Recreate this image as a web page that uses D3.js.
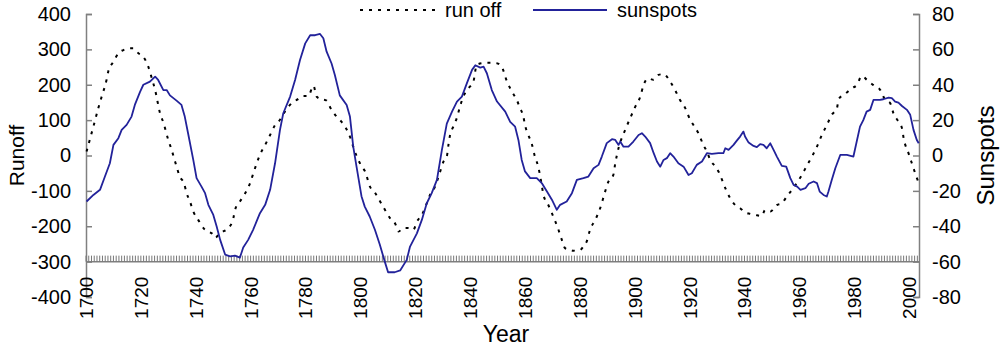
<!DOCTYPE html>
<html>
<head>
<meta charset="utf-8">
<script src="https://cdn.jsdelivr.net/npm/d3@7"></script>
<style>
    body { margin: 0; background: #fff; }
    text { font-family: "Liberation Sans", Arial, sans-serif; fill: #000; }
</style>
</head>
<body>
<script>
// run off (dotted)
const runoffYears = [1700.2, 1702.7, 1704.5, 1705.7, 1707.5, 1708.1, 1710, 1711.8, 1713.6, 1716, 1717.2, 1719.1,
    1720.9, 1722.7, 1724, 1725.2, 1727, 1728.3, 1729.8, 1731.2, 1733, 1734.2, 1735.7, 1736.7, 1737.9, 1739.1,
    1740.9, 1743.4, 1744.6, 1746.4, 1747, 1748.9, 1751.9, 1753.7, 1754.3, 1756.1, 1758, 1759.8, 1761, 1763.4,
    1765.3, 1767.1, 1768.9, 1770.7, 1772.5, 1775, 1776.8, 1779.2, 1781, 1782.9, 1784.1, 1785.9, 1787.7, 1789,
    1790.8, 1792.6, 1794.4, 1796.2, 1797.4, 1798.7, 1800.5, 1801.7, 1803.5, 1805.4, 1807.2, 1809, 1810.8, 1812.7,
    1813.9, 1815.7, 1817.5, 1819.3, 1820.6, 1822.4, 1824.2, 1825.4, 1827.2, 1829.1, 1830.3, 1831.5, 1832.1, 1832.7,
    1833.9, 1835.1, 1836.3, 1837.5, 1839.4, 1841.2, 1842.4, 1844.3, 1846.1, 1847.9, 1849.7, 1851.5, 1853.4, 1855.2,
    1857, 1858.2, 1859.4, 1860, 1861.2, 1862.4, 1863.6, 1864.8, 1866.1, 1866.7, 1868.5, 1869.8, 1872.2, 1873.4,
    1874.6, 1876.4, 1877.6, 1880.1, 1881.3, 1882.5, 1883.7, 1885.6, 1887.4, 1889.2, 1890.4, 1892.2, 1892.9, 1894.1,
    1896.5, 1898.3, 1900.2, 1902, 1903.2, 1905, 1906.8, 1908.6, 1910.5, 1912.9, 1914.7, 1916.5, 1918.4, 1920.2,
    1921.4, 1923.2, 1925, 1926.3, 1927.5, 1929.3, 1930.5, 1933, 1934.8, 1936.6, 1938.4, 1940.2, 1942.1, 1943.9,
    1946.3, 1947.5, 1949.4, 1951.8, 1953.6, 1955.4, 1957.3, 1959.1, 1960.9, 1962.7, 1964.6, 1966.4, 1968.2, 1970,
    1971.8, 1973.7, 1974.3, 1976.7, 1979.1, 1980.9, 1982.8, 1984.6, 1987, 1989.5, 1991.3, 1993.1, 1994.3, 1996.1,
    1997.4, 1998, 1999.8, 2001, 2002.2, 2003.5];
const runoffValues = [11, 82, 134, 166, 214, 237, 265, 289, 298, 303, 303, 289,
    279, 251, 218, 185, 119, 91, 49, 16, -31, -60, -78, -107, -130, -158,
    -182, -210, -215, -224, -233, -219, -205, -177, -154, -130, -107, -78, -50, 2,
    30, 58, 86, 101, 124, 148, 157, 168, 168, 197, 166, 159, 155, 136,
    115, 100, 82, 53, 25, -3, -31, -45, -88, -106, -130, -154, -177, -193,
    -215, -205, -205, -210, -187, -168, -135, -111, -88, -45, -17, -3, 30, 58,
    82, 105, 138, 166, 190, 209, 256, 261, 262, 262, 261, 251, 210, 181,
    157, 134, 110, 86, 58, 35, -3, -31, -83, -111, -140, -163, -210, -238,
    -262, -267, -269, -267, -257, -243, -210, -182, -149, -102, -74, -55, -22, 21,
    72, 105, 138, 166, 199, 218, 214, 228, 230, 209, 185, 157, 134, 101,
    86, 63, 30, 11, -12, -31, -45, -92, -121, -140, -149, -161, -165, -168,
    -171, -154, -158, -140, -135, -116, -97, -77, -55, -29, -3, 25, 58, 86,
    115, 134, 159, 174, 190, 199, 225, 214, 199, 185, 157, 148, 119, 96,
    77, 49, 6, -22, -50, -78];

// sunspots (solid)
const sunYears = [1700.2, 1702.7, 1705.1, 1706.9, 1708.7, 1710, 1711.8, 1713, 1714.8, 1716.6, 1717.8, 1719.7,
    1720.9, 1723.3, 1725.2, 1726.3, 1728.2, 1729.4, 1730.6, 1733, 1734.8, 1736, 1737.2, 1739.1, 1740.3, 1742.1,
    1743.4, 1744.6, 1746.4, 1747.6, 1748.9, 1750.7, 1752.5, 1754.3, 1756.1, 1757.3, 1759.1, 1760.9, 1763.4, 1765.3,
    1767.1, 1768.9, 1770.7, 1771.9, 1774.4, 1776.2, 1778, 1779.9, 1781.7, 1783.5, 1785.3, 1786.5, 1787.7, 1789.5,
    1790.7, 1792.5, 1795, 1796.2, 1797.4, 1798.6, 1800.4, 1801.6, 1803.4, 1805.3, 1807.1, 1808.9, 1810.1, 1812.5,
    1814.5, 1816.9, 1818.1, 1820.6, 1822.4, 1824.2, 1826, 1827.9, 1829.7, 1831.5, 1833.4, 1835.2, 1837, 1838.8,
    1840.7, 1841.9, 1843.7, 1844.9, 1846.1, 1847.9, 1849.8, 1852.8, 1854.6, 1856.4, 1857.6, 1858.8, 1860, 1861.9,
    1864.3, 1866.1, 1868, 1869.8, 1871.6, 1872.8, 1875.2, 1877.1, 1878.9, 1881.3, 1883.1, 1885, 1886.8, 1888,
    1889.8, 1891.7, 1892.9, 1894.1, 1894.7, 1895.9, 1897.7, 1899.5, 1901.4, 1902.6, 1903.8, 1905.6, 1906.9, 1908.1,
    1909.3, 1910.5, 1911.7, 1912.9, 1914.1, 1915.9, 1917.8, 1919.6, 1920.8, 1922.6, 1924.5, 1926.3, 1928.1, 1930.5,
    1932.3, 1933, 1934.2, 1936, 1937.2, 1938.4, 1939.6, 1940.2, 1941.5, 1943.3, 1944.5, 1945.7, 1946.9, 1948.1,
    1949.4, 1950.6, 1951.8, 1953.6, 1955.2, 1956.7, 1957.9, 1959.2, 1960.4, 1962.2, 1963.4, 1965.2, 1966.4, 1967.4,
    1968.8, 1970, 1970.6, 1971.8, 1973.1, 1974.9, 1977.3, 1979.7, 1980.9, 1982.1, 1983.3, 1984.5, 1985.8, 1987,
    1989.4, 1990.6, 1992.5, 1993.7, 1994.9, 1996.1, 1997.4, 1999.2, 2000.4, 2001.6, 2002.8, 2003.5];
const sunValues = [-26, -22.3, -19.4, -11.9, -4.4, 6, 9.8, 14.5, 17.3, 22, 28.6, 36,
    40, 41.8, 44.6, 42.7, 37, 37, 34, 31, 28.6, 22, 12.6, -2.5, -12.8, -17.6,
    -21.3, -27.9, -33.6, -40, -47.7, -56, -57, -56.6, -57.7, -52, -47.7, -42, -32.6, -27.9,
    -19.4, -4.4, 14.5, 23.9, 33.3, 42.7, 54, 63.4, 68, 68, 68.7, 66.3, 58.7, 52,
    45.5, 34, 28.6, 22, 5, -6.3, -23, -28.9, -34.5, -42, -50.5, -60, -66, -66,
    -65, -59, -51.5, -44, -36.4, -27, -21.3, -13.8, 3, 18, 24.8, 30.5, 33.3, 40.8,
    48.4, 51, 49.7, 50.2, 46.5, 37, 30.5, 24.8, 19, 16.3, 8.8, -2.5, -9, -12.8,
    -12.8, -15.6, -20.4, -25, -30.7, -27.9, -26, -21.3, -13.8, -12.8, -11.9, -7.2, -5.3, -0.6,
    7, 9.2, 8.8, 6, 7.9, 5, 5, 7.9, 11.6, 12.6, 10.7, 7, 1.3, -3.4,
    -6.3, -2.5, -1.5, 1.3, -0.6, -4.4, -6.3, -11, -10, -5.3, -3.4, 1.3, 0.9, 1.3,
    1.3, 4.1, 3.2, 6, 8.4, 10.7, 13.5, 10.7, 7.3, 5.4, 4.7, 6.4, 6, 4.1,
    6.9, 3.2, -0.6, -5.9, -6.3, -12.8, -16.6, -17.6, -19.4, -18.5, -16, -14.7, -15.6, -20.4,
    -22.3, -23.2, -20.4, -13.8, -7.2, 0.3, 0.3, -0.6, 7.9, 16.3, 20, 24.8, 25.8, 31.4,
    31.4, 31.8, 32.7, 32.4, 30.5, 29.9, 28, 25.8, 23, 14.5, 8.8, 6.9];

const leftTicks = [-400, -300, -200, -100, 0, 100, 200, 300, 400];
const rightTicks = [-80, -60, -40, -20, 0, 20, 40, 60, 80];
const yearTicks = [1700, 1720, 1740, 1760, 1780, 1800, 1820, 1840, 1860, 1880, 1900, 1920, 1940, 1960, 1980, 2000];

(function () {

    const width = 1000, height = 349;
    const left = 86, right = 919, top = 14, bottom = 297;

    const svg = d3.select('body')
        .append('svg')
        .attr('width', width)
        .attr('height', height);

    const x = d3.scaleLinear().domain([1700, 2003.6]).range([left, right]);
    const yL = d3.scaleLinear().domain([-400, 400]).range([bottom, top]);
    const yR = d3.scaleLinear().domain([-80, 80]).range([bottom, top]);

    const axisColor = '#808080';
    const plain = d => String(d);   // hyphen minus, like the original

    // left axis, ticks pointing inwards
    const gl = svg.append('g')
        .attr('transform', 'translate(' + left + ',0)')
        .call(d3.axisLeft(yL).tickValues(leftTicks).tickFormat(plain).tickSize(-6).tickPadding(15));
    // right axis
    const gr = svg.append('g')
        .attr('transform', 'translate(' + right + ',0)')
        .call(d3.axisRight(yR).tickValues(rightTicks).tickFormat(plain).tickSize(-6).tickPadding(13));

    [gl, gr].forEach(g => {
        g.select('.domain').attr('stroke', axisColor).attr('stroke-width', 1.5);
        g.selectAll('.tick line').attr('stroke', axisColor).attr('stroke-width', 1.5);
        g.selectAll('.tick text').style('font-size', '20px').attr('font-family', null);
    });

    // x axis sits at the -300 level, one small tick per year
    const yearMinor = d3.range(1700, 2004);
    const gx = svg.append('g')
        .attr('transform', 'translate(0,' + yL(-300) + ')');
    gx.append('line')
        .attr('x1', left).attr('x2', right)
        .attr('stroke', axisColor).attr('stroke-width', 1.5);
    gx.selectAll('.minor')
        .data(yearMinor)
        .join('line')
        .attr('class', 'minor')
        .attr('x1', d => x(d)).attr('x2', d => x(d))
        .attr('y1', 0).attr('y2', -6)
        .attr('stroke', '#777').attr('stroke-width', 1);
    gx.selectAll('.lab')
        .data(yearTicks)
        .join('text')
        .attr('class', 'lab')
        .attr('transform', d => 'translate(' + (x(d) + 7) + ',15) rotate(-90)')
        .attr('text-anchor', 'end')
        .style('font-size', '19px')
        .text(d => d);

    // series
    const runoffData = runoffYears.map((d, i) => [d, runoffValues[i]]);
    const sunData = sunYears.map((d, i) => [d, sunValues[i]]);

    svg.append('path')
        .datum(runoffData)
        .attr('fill', 'none')
        .attr('stroke', '#000')
        .attr('stroke-width', 2)
        .attr('stroke-dasharray', '3,6')
        .attr('d', d3.line().x(d => x(d[0])).y(d => yL(d[1])).curve(d3.curveMonotoneX));

    svg.append('path')
        .datum(sunData)
        .attr('fill', 'none')
        .attr('stroke', '#22229a')
        .attr('stroke-width', 1.8)
        .attr('stroke-linejoin', 'round')
        .attr('d', d3.line().x(d => x(d[0])).y(d => yR(d[1])));

    // axis titles
    svg.append('text')
        .attr('transform', 'translate(24,' + yL(0) + ') rotate(-90)')
        .attr('text-anchor', 'middle')
        .style('font-size', '21px')
        .text('Runoff');
    svg.append('text')
        .attr('transform', 'translate(994,' + yL(0) + ') rotate(-90)')
        .attr('text-anchor', 'middle')
        .style('font-size', '24px')
        .text('Sunspots');
    svg.append('text')
        .attr('x', 506)
        .attr('y', 342)
        .attr('text-anchor', 'middle')
        .style('font-size', '23px')
        .text('Year');

    // legend
    const legend = svg.append('g');
    legend.append('line')
        .attr('x1', 360).attr('x2', 436).attr('y1', 10).attr('y2', 10)
        .attr('stroke', '#000').attr('stroke-width', 2).attr('stroke-dasharray', '3,6');
    legend.append('text')
        .attr('x', 445).attr('y', 17)
        .style('font-size', '20px')
        .text('run off');
    legend.append('line')
        .attr('x1', 533).attr('x2', 607).attr('y1', 10).attr('y2', 10)
        .attr('stroke', '#22229a').attr('stroke-width', 1.8);
    legend.append('text')
        .attr('x', 617).attr('y', 17)
        .style('font-size', '20px')
        .text('sunspots');

})();
</script>
</body>
</html>
